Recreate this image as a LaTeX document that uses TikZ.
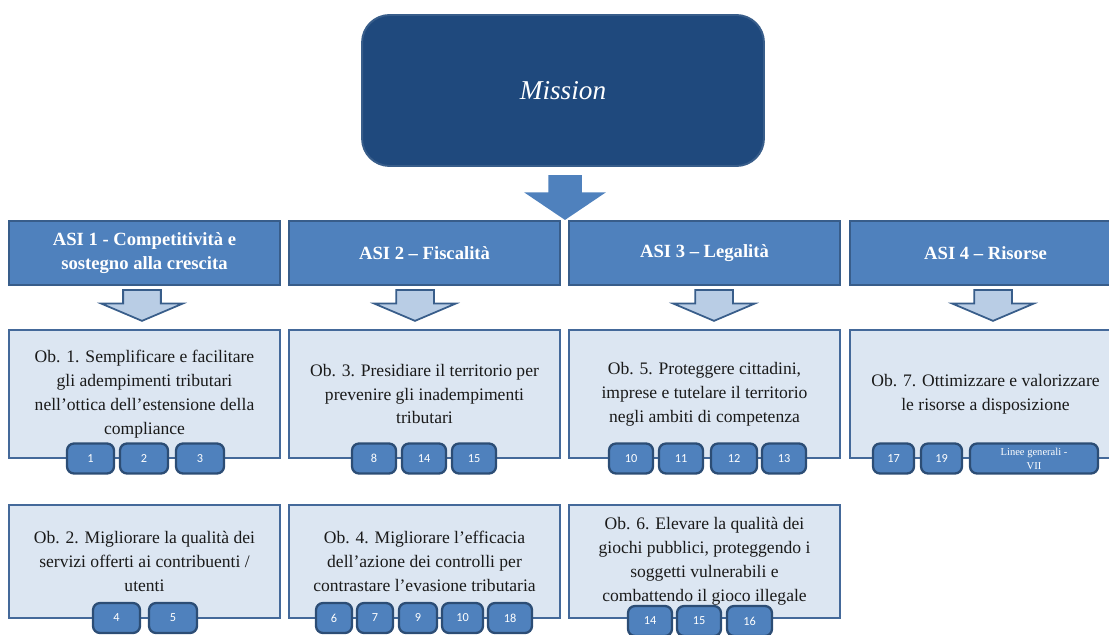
\documentclass[tikz,border=0pt]{standalone}
\usepackage{fontspec}
\setmainfont{Liberation Serif}
\newfontfamily\numfont{Carlito}
\usetikzlibrary{shapes.arrows}
\definecolor{missionblue}{HTML}{1F497D}
\definecolor{missionedge}{HTML}{385D8A}
\definecolor{asiblue}{HTML}{4F81BD}
\definecolor{asiedge}{HTML}{385D8A}
\definecolor{oblight}{HTML}{DCE6F2}
\definecolor{obedge}{HTML}{44699A}
\definecolor{obtext}{HTML}{1A1A1A}
\definecolor{numedge}{HTML}{2C4D75}
\definecolor{arrowlight}{HTML}{B9CDE5}

\begin{document}
\begin{tikzpicture}[x=0.02cm, y=-0.02cm,
    asibox/.style={draw=asiedge, fill=asiblue, line width=1.1pt, minimum width=5.42cm,
        minimum height=1.28cm, text=white, align=center, inner sep=0pt,
        font=\bfseries\fontsize{10.6}{13.6}\selectfont},
    obbox/.style={draw=obedge, fill=oblight, line width=1.1pt, minimum width=5.42cm,
        text=obtext, align=center, inner sep=0pt,
        font=\fontsize{10}{13.6}\selectfont},
    numbox/.style={draw=numedge, fill=asiblue, line width=1.3pt, rounded corners=4pt,
        minimum height=0.6cm, text=white, inner sep=0pt,
        font=\numfont\fontsize{7}{8}\selectfont},
    downarrow/.style={single arrow, draw=asiedge, fill=arrowlight, line width=1pt,
        rotate=-90, anchor=tail, inner xsep=0pt, inner ysep=0.36cm, minimum height=0.62cm,
        single arrow head extend=0.44cm, single arrow tip angle=134}]

    \clip (0,0) rectangle (1109,635);

    % mission and main arrow
    \node[draw=missionedge, fill=missionblue, line width=1.1pt, rounded corners=0.55cm,
        minimum width=8.04cm, minimum height=3.02cm, text=white,
        font=\itshape\fontsize{15.5}{18}\selectfont] (mission) at (563,90.5) {Mission};
    \node[downarrow, fill=asiblue, draw=asiblue, minimum height=0.86cm, inner ysep=0.3cm,
        single arrow tip angle=112] (a0) at (565,175) {};

    % ASI headers
    \node[asibox] (asi1) at (144.5,253) {ASI 1 - Competitività e\\sostegno alla crescita};
    \node[asibox] (asi2) at (424.5,253) {ASI 2 – Fiscalità};
    \node[asibox] (asi3) at (704.5,253) {ASI 3 – Legalità};
    \node[asibox] (asi4) at (985.5,253) {ASI 4 – Risorse};

    \node[downarrow] (a1) at (142,289) {};
    \node[downarrow] (a2) at (415,289) {};
    \node[downarrow] (a3) at (714,289) {};
    \node[downarrow] (a4) at (993,289) {};

    % objectives, first row
    \node[obbox, minimum height=2.56cm] (ob1) at (144.5,394) {Ob. 1. Semplificare e facilitare\\gli adempimenti tributari\\nell’ottica dell’estensione della\\compliance};
    \node[obbox, minimum height=2.56cm] (ob3) at (424.5,394) {Ob. 3. Presidiare il territorio per\\prevenire gli inadempimenti\\tributari};
    \node[obbox, minimum height=2.56cm] (ob5) at (704.5,394) {Ob. 5. Proteggere cittadini,\\imprese e tutelare il territorio\\negli ambiti di competenza};
    \node[obbox, minimum height=2.56cm] (ob7) at (985.5,394) {Ob. 7. Ottimizzare e valorizzare\\le risorse a disposizione};

    % objectives, second row
    \node[obbox, minimum height=2.26cm] (ob2) at (144.5,561.5) {Ob. 2. Migliorare la qualità dei\\servizi offerti ai contribuenti /\\utenti};
    \node[obbox, minimum height=2.26cm] (ob4) at (424.5,561.5) {Ob. 4. Migliorare l'efficacia\\dell'azione dei controlli per\\contrastare l'evasione tributaria};
    \node[obbox, minimum height=2.26cm] (ob6) at (704.5,561.5) {Ob. 6. Elevare la qualità dei\\giochi pubblici, proteggendo i\\soggetti vulnerabili e\\combattendo il gioco illegale};

    % numbered boxes
    \node[numbox, minimum width=0.94cm] (n1) at (90.5,458.5) {1};
    \node[numbox, minimum width=0.96cm] (n2) at (144,458.5) {2};
    \node[numbox, minimum width=0.96cm] (n3) at (200,458.5) {3};

    \node[numbox, minimum width=0.88cm] (n8) at (374,458.5) {8};
    \node[numbox, minimum width=0.88cm] (n14a) at (424,458.5) {14};
    \node[numbox, minimum width=0.88cm] (n15a) at (474,458.5) {15};

    \node[numbox, minimum width=0.88cm] (n10a) at (631,458.5) {10};
    \node[numbox, minimum width=0.88cm] (n11) at (681,458.5) {11};
    \node[numbox, minimum width=0.92cm] (n12) at (734,458.5) {12};
    \node[numbox, minimum width=0.88cm] (n13) at (784,458.5) {13};

    \node[numbox, minimum width=0.82cm] (n17) at (893.5,458.5) {17};
    \node[numbox, minimum width=0.82cm] (n19) at (941.5,458.5) {19};
    \node[numbox, minimum width=2.56cm, font=\fontsize{6}{8}\selectfont, align=center] (nlg) at (1034,458.5) {Linee generali -\\VII};

    \node[numbox, minimum width=0.94cm] (n4) at (116.5,618) {4};
    \node[numbox, minimum width=0.96cm] (n5) at (173,618) {5};

    \node[numbox, minimum width=0.72cm] (n6) at (334,618) {6};
    \node[numbox, minimum width=0.72cm] (n7) at (375,618) {7};
    \node[numbox, minimum width=0.76cm] (n9) at (418,618) {9};
    \node[numbox, minimum width=0.82cm] (n10b) at (462.5,618) {10};
    \node[numbox, minimum width=0.88cm] (n18) at (510,618) {18};

    \node[numbox, minimum width=0.88cm] (n14b) at (650,621) {14};
    \node[numbox, minimum width=0.88cm] (n15b) at (699,621) {15};
    \node[numbox, minimum width=0.90cm] (n16) at (749.5,621) {16};
\end{tikzpicture}
\end{document}
